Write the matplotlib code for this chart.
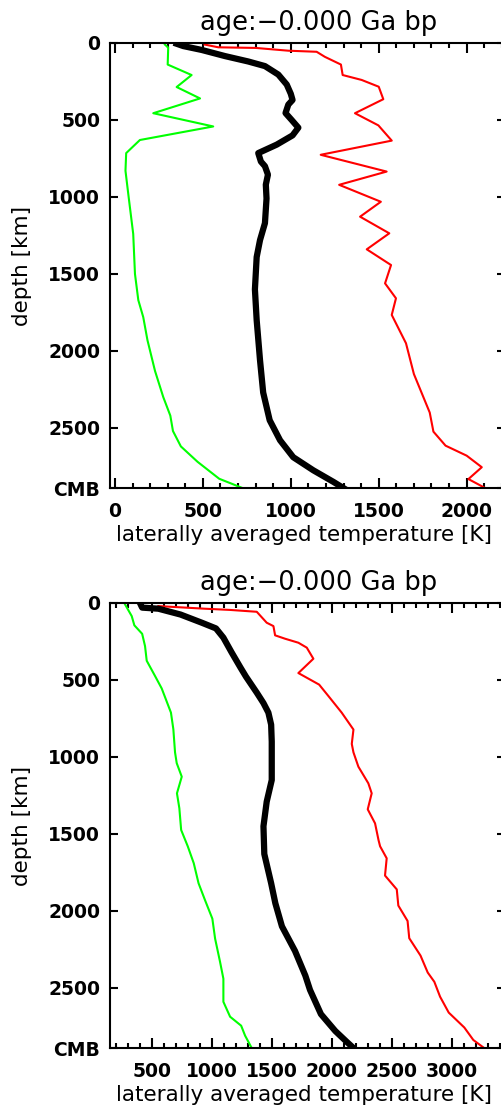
import matplotlib.pyplot as plt
from matplotlib.ticker import MultipleLocator, FixedLocator

plt.rcParams['font.family'] = 'DejaVu Sans'

# depth of the core-mantle boundary [km]
cmb_depth = 2890
depth_ticks = [0, 500, 1000, 1500, 2000, 2500, cmb_depth]
depth_labels = ['0', '500', '1000', '1500', '2000', '2500', 'CMB']
title_text = 'age:\u22120.000 Ga bp'

# upper panel: min / mean / max of laterally averaged temperature
top_min_depth = [10, 30, 140, 208, 286, 360, 456, 542, 630, 715, 830, 1000, 1240, 1500,
                 1670, 1780, 1930, 2130, 2300, 2420, 2520, 2620, 2720, 2830, 2890]
top_min_temp = [284, 303, 300, 436, 351, 484, 218, 559, 142, 64, 60, 78, 104, 114,
                133, 161, 185, 228, 275, 315, 330, 375, 470, 593, 725]

top_mean_depth = [5, 20, 45, 85, 120, 150, 205, 270, 330, 370, 400, 455, 500, 550, 600,
                  660, 715, 770, 800, 855, 920, 1010, 1170, 1280, 1390, 1600, 1800, 2060,
                  2270, 2450, 2580, 2690, 2775, 2850, 2890]
top_mean_temp = [351, 389, 493, 626, 758, 853, 929, 977, 1000, 1010, 986, 970, 1005, 1043,
                 1010, 920, 815, 830, 853, 870, 858, 862, 853, 825, 806, 796, 806, 825,
                 843, 880, 939, 1014, 1128, 1242, 1299]

top_max_depth = [10, 28, 32, 50, 57, 90, 140, 208, 240, 284, 365, 456, 535, 634, 726, 835,
                 921, 1031, 1128, 1236, 1340, 1442, 1561, 1658, 1766, 1950, 2150, 2300,
                 2400, 2524, 2615, 2680, 2755, 2832, 2890]
top_max_temp = [510, 588, 800, 986, 1147, 1194, 1285, 1295, 1403, 1500, 1526, 1365, 1498,
                1574, 1170, 1545, 1275, 1512, 1394, 1560, 1432, 1570, 1536, 1598, 1574,
                1655, 1700, 1754, 1790, 1811, 1880, 2000, 2086, 2010, 2105]

# lower panel
bot_min_depth = [10, 85, 145, 200, 280, 375, 475, 555, 712, 820, 970, 1040, 1128, 1236,
                 1333, 1474, 1580, 1690, 1820, 1930, 2050, 2180, 2330, 2440, 2590, 2687,
                 2745, 2810, 2890]
bot_min_temp = [278, 333, 355, 420, 444, 458, 528, 583, 660, 680, 694, 708, 750, 710, 730,
                745, 800, 850, 890, 944, 1005, 1028, 1069, 1097, 1097, 1153, 1245, 1278, 1333]

bot_mean_depth = [2, 30, 37, 75, 128, 165, 225, 320, 420, 478, 582, 650, 712, 790, 900,
                  1150, 1290, 1450, 1630, 1820, 1950, 2100, 2260, 2420, 2513, 2670, 2780,
                  2850, 2890]
bot_mean_temp = [403, 420, 555, 740, 917, 1035, 1097, 1165, 1240, 1285, 1375, 1431, 1472,
                 1495, 1500, 1500, 1458, 1431, 1438, 1495, 1530, 1585, 1694, 1780, 1819,
                 1910, 2030, 2125, 2181]

bot_max_depth = [20, 37, 45, 57, 128, 150, 210, 232, 258, 290, 362, 455, 530, 604, 712,
                 822, 915, 970, 1063, 1171, 1236, 1340, 1431, 1540, 1580, 1658, 1770, 1860,
                 1965, 2065, 2177, 2290, 2400, 2460, 2557, 2660, 2757, 2838, 2890]
bot_max_temp = [555, 940, 1153, 1375, 1458, 1514, 1528, 1611, 1722, 1792, 1847, 1722, 1895,
                1972, 2083, 2181, 2167, 2181, 2222, 2305, 2333, 2300, 2361, 2390, 2403, 2458,
                2444, 2542, 2555, 2632, 2646, 2740, 2800, 2855, 2903, 2975, 3105, 3180, 3270]

W, H = 501, 1106
fig = plt.figure(figsize=(W / 100, H / 100), dpi=100)


def panel(top_px, xlim, tmin, tmean, tmax):
    # axes box in pixels: left 110, right 505 (runs just past the page edge)
    ax = fig.add_axes([110 / W, 1 - (top_px + 445) / H, 395 / W, 445 / H])
    ax.plot(tmin[1], tmin[0], color='#00ff00', lw=1.5, zorder=2)
    ax.plot(tmax[1], tmax[0], color='#ff0000', lw=1.5, zorder=2)
    ax.plot(tmean[1], tmean[0], color='black', lw=4.5, zorder=3)

    ax.set_xlim(*xlim)
    ax.set_ylim(cmb_depth, 0)
    ax.xaxis.set_major_locator(MultipleLocator(500))
    ax.xaxis.set_minor_locator(MultipleLocator(100))
    ax.yaxis.set_major_locator(FixedLocator(depth_ticks))
    ax.set_yticklabels(depth_labels, fontweight='bold')
    for lab in ax.get_xticklabels():
        lab.set_fontweight('bold')

    ax.tick_params(which='both', direction='in', top=True, right=True, width=1.5,
                   labelsize=13.5, color='black')
    ax.tick_params(axis='x', which='major', length=7, pad=10)
    ax.tick_params(axis='x', which='minor', length=3.5)
    ax.tick_params(axis='y', which='major', length=6, pad=7)
    for s in ax.spines.values():
        s.set_linewidth(1.5)

    ax.set_xlabel('laterally averaged temperature [K]', fontsize=15.5, va='center')
    ax.xaxis.set_label_coords(0.49, -47 / 445)
    ax.set_ylabel('depth [km]', fontsize=15.5, va='center')
    ax.yaxis.set_label_coords(-88 / 395, 0.5)
    ax.text(209 / 395, 1 + 13.5 / 445, title_text, transform=ax.transAxes,
            ha='center', va='baseline', fontsize=18.5)
    return ax


panel(43, (-28, 2218),
      (top_min_depth, top_min_temp),
      (top_mean_depth, top_mean_temp),
      (top_max_depth, top_max_temp))
panel(603, (152, 3444),
      (bot_min_depth, bot_min_temp),
      (bot_mean_depth, bot_mean_temp),
      (bot_max_depth, bot_max_temp))

fig.savefig('out.png', dpi=100)
